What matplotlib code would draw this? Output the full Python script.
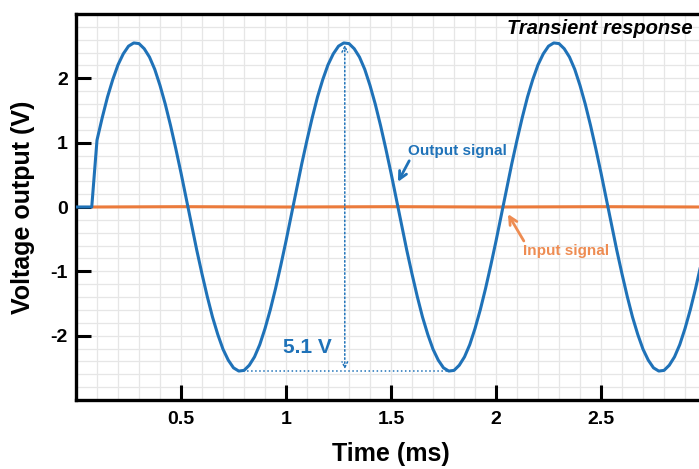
import numpy as np
import matplotlib.pyplot as plt

plt.rcParams['font.family'] = ['Liberation Sans', 'DejaVu Sans']
plt.rcParams['font.weight'] = 'bold'
plt.rcParams['axes.unicode_minus'] = False

# Output signal (V): flat start, then samples every 0.025 ms from 0.1 ms
out_t_start = [0.0, 0.075]
out_v_start = [0.0, 0.0]
out_t_samples = np.round(np.arange(0.1, 3.0001, 0.025), 3)
out_v_samples = [
    1.04, 1.39, 1.71, 1.98, 2.21, 2.38, 2.50, 2.55, 2.54, 2.46,
    2.33, 2.14, 1.89, 1.60, 1.27, 0.91, 0.53, 0.13, -0.27, -0.67,
    -1.04, -1.39, -1.71, -1.98, -2.21, -2.38, -2.50, -2.55, -2.54, -2.46,
    -2.33, -2.14, -1.89, -1.60, -1.27, -0.91, -0.53, -0.13, 0.27, 0.67,
    1.04, 1.39, 1.71, 1.98, 2.21, 2.38, 2.50, 2.55, 2.54, 2.46,
    2.33, 2.14, 1.89, 1.60, 1.27, 0.91, 0.53, 0.13, -0.27, -0.67,
    -1.04, -1.39, -1.71, -1.98, -2.21, -2.38, -2.50, -2.55, -2.54, -2.46,
    -2.33, -2.14, -1.89, -1.60, -1.27, -0.91, -0.53, -0.13, 0.27, 0.67,
    1.04, 1.39, 1.71, 1.98, 2.21, 2.38, 2.50, 2.55, 2.54, 2.46,
    2.33, 2.14, 1.89, 1.60, 1.27, 0.91, 0.53, 0.13, -0.27, -0.67,
    -1.04, -1.39, -1.71, -1.98, -2.21, -2.38, -2.50, -2.55, -2.54, -2.46,
    -2.33, -2.14, -1.89, -1.60, -1.27, -0.91, -0.53,
]
out_t = np.concatenate([out_t_start, out_t_samples])
out_v = np.concatenate([out_v_start, out_v_samples])

# Input signal (V): practically flat
in_t = [0.08, 0.5, 1.0, 1.5, 2.0, 2.5, 3.0]
in_v = [0.0, 0.005, 0.0, 0.005, 0.0, 0.005, 0.0]

# peak-to-peak marker
pp_time = 1.28
pp_top = 2.52
pp_bottom = -2.52
trough_t = [0.795, 1.785]
trough_v = -2.55

x_ticks = [0.5, 1, 1.5, 2, 2.5]
x_tick_labels = ['0.5', '1', '1.5', '2', '2.5']
y_ticks = [-2, -1, 0, 1, 2]

blue = '#1f72b8'
orange = '#eb7b3c'

fig = plt.figure(figsize=(6.99, 4.69), dpi=100)
rect = [76 / 699, 69 / 469, 630 / 699, 386 / 469]

# background axes only for the light grid (so the tick marks sit on top of it)
bg = fig.add_axes(rect, zorder=0)
bg.set_xlim(0, 3)
bg.set_ylim(-3, 3)
bg.set_xticks(np.round(np.arange(0, 3.001, 0.1), 2))
bg.set_yticks(np.round(np.arange(-3, 3.001, 0.2), 2))
bg.grid(color='#e6e6e6', linewidth=0.9)
bg.tick_params(length=0, labelbottom=False, labelleft=False)
for sp in bg.spines.values():
    sp.set_visible(False)

ax = fig.add_axes(rect, zorder=1)
ax.patch.set_visible(False)

ax.plot(in_t, in_v, color=orange, lw=2.2, zorder=2)
ax.plot(out_t, out_v, color=blue, lw=2.2, zorder=3)

# 5.1 V annotation
ax.plot(trough_t, [trough_v, trough_v], color=blue, lw=1.1, ls=':', zorder=3)
ax.annotate('', xy=(pp_time, pp_top), xytext=(pp_time, pp_bottom),
            arrowprops=dict(arrowstyle='<->', color=blue, lw=1.1, ls=':',
                            mutation_scale=10, shrinkA=0, shrinkB=0))
ax.text(1.10, -2.19, '5.1 V', color=blue, fontsize=15, fontweight='bold',
        ha='center', va='center')

ax.annotate('Output signal', xy=(1.533, 0.39), xytext=(1.815, 0.87),
            color=blue, fontsize=11, fontweight='bold', ha='center', va='center',
            arrowprops=dict(arrowstyle='->', color=blue, lw=2,
                            mutation_scale=14, shrinkA=0, shrinkB=0,
                            relpos=(0.03, 0.0)))
ax.annotate('Input signal', xy=(2.057, -0.11), xytext=(2.333, -0.68),
            color='#ee8c52', fontsize=11, fontweight='bold', ha='center', va='center',
            arrowprops=dict(arrowstyle='->', color='#ee8c52', lw=2,
                            mutation_scale=14, shrinkA=0, shrinkB=0,
                            relpos=(0.03, 1.0)))

ax.text(2.935, 2.77, 'Transient response', fontsize=14.5, fontweight='bold',
        fontstyle='italic', ha='right', va='center')

ax.set_xlim(0, 3)
ax.set_ylim(-3, 3)
ax.set_xticks(x_ticks)
ax.set_xticklabels(x_tick_labels)
ax.set_yticks(y_ticks)
ax.tick_params(direction='in', length=11, width=2.2, labelsize=14, pad=6)
ax.tick_params(axis='x', pad=8)
for lab in ax.get_xticklabels() + ax.get_yticklabels():
    lab.set_fontweight('bold')
for sp in ax.spines.values():
    sp.set_linewidth(2.4)

ax.set_xlabel('Time (ms)', fontsize=18, fontweight='bold')
ax.set_ylabel('Voltage output (V)', fontsize=18, fontweight='bold')
ax.xaxis.set_label_coords(0.5, -0.11)
ax.yaxis.set_label_coords(-0.065, 0.5)

fig.savefig('out.png', dpi=100)
